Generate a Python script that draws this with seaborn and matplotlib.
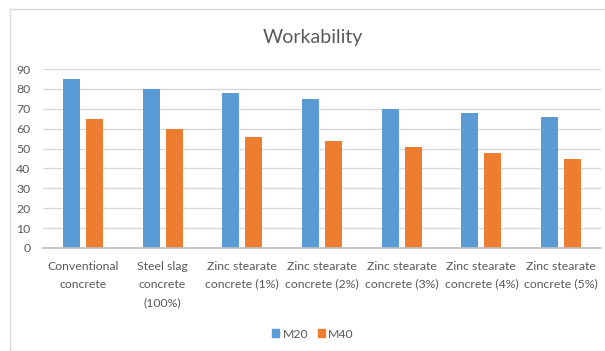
import matplotlib
matplotlib.use("Agg")
import matplotlib.pyplot as plt
import seaborn as sns
import pandas as pd
from matplotlib.patches import Rectangle, Patch

categories = ["Conventional\nconcrete", "Steel slag\nconcrete\n(100%)", "Zinc stearate\nconcrete (1%)",
              "Zinc stearate\nconcrete (2%)", "Zinc stearate\nconcrete (3%)", "Zinc stearate\nconcrete (4%)",
              "Zinc stearate\nconcrete (5%)"]
m20 = [85, 80, 78, 75, 70, 68, 66]
m40 = [65, 60, 56, 54, 51, 48, 45]
series = ["M20", "M40"]
yticks = [0, 10, 20, 30, 40, 50, 60, 70, 80, 90]

df = pd.DataFrame({
    "cat": categories * 2,
    "val": m20 + m40,
    "series": [series[0]] * len(categories) + [series[1]] * len(categories),
})

sns.set_theme(style="white")
plt.rcParams["font.family"] = ["Lato", "DejaVu Sans"]

W, H = 605, 351
fig = plt.figure(figsize=(W / 100, H / 100), dpi=100)
fig.patches.append(Rectangle((10 / W, 0), 1, 1 - 9 / H, transform=fig.transFigure,
                             fill=False, edgecolor="#D9D9D9", linewidth=1.0))
ax = fig.add_axes([43 / W, 1 - 248 / H, (601 - 43) / W, (248 - 69) / H])

sns.barplot(data=df, x="cat", y="val", hue="series", palette=["#5B9BD5", "#ED7D31"],
            width=0.575, gap=0.26, ax=ax, legend=False, saturation=1, linewidth=0)

ax.set_ylim(0, 90)
ax.set_xlim(-0.5, len(categories) - 0.5)
ax.set_yticks(yticks)
ax.yaxis.grid(True, color="#D9D9D9", linewidth=1)
ax.set_axisbelow(True)
for s in ["top", "right", "left"]:
    ax.spines[s].set_visible(False)
ax.spines["bottom"].set_color("#BFBFBF")
ax.set_xlabel("")
ax.set_ylabel("")
ax.tick_params(axis="both", length=0, labelsize=8.8, colors="#595959")
ax.tick_params(axis="x", pad=9)
ax.tick_params(axis="y", pad=9)
for lbl in ax.get_xticklabels():
    lbl.set_linespacing(1.8)

fig.text(313 / W, 1 - 37 / H, "Workability", ha="center", va="center", fontsize=14, color="#595959")

handles = [Patch(color="#5B9BD5"), Patch(color="#ED7D31")]
fig.legend(handles, series, loc="center", bbox_to_anchor=(313 / W, 1 - 334 / H), ncol=2, frameon=False,
           fontsize=8.8, handlelength=0.6, handleheight=0.6, handletextpad=0.25, columnspacing=0.8,
           labelcolor="#595959")

fig.savefig("out.png", dpi=100)
